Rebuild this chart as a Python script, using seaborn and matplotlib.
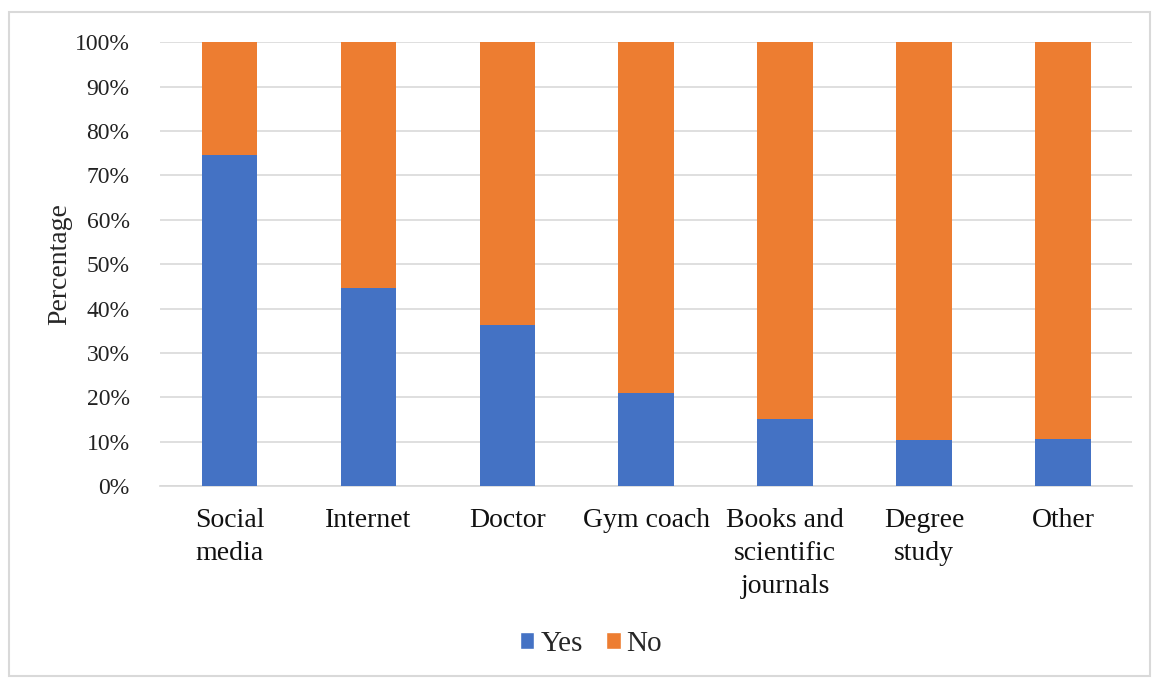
import matplotlib
matplotlib.use('Agg')
import matplotlib.pyplot as plt
import seaborn as sns
import pandas as pd
from matplotlib.patches import Patch, Rectangle
from matplotlib.ticker import FuncFormatter

sources = ['Social\nmedia', 'Internet', 'Doctor', 'Gym coach',
           'Books and\nscientific\njournals', 'Degree\nstudy', 'Other']
yes_pct = [74.6, 44.7, 36.3, 20.9, 15.2, 10.3, 10.6]
no_pct = [25.4, 55.3, 63.7, 79.1, 84.8, 89.7, 89.4]

blue = '#4472C4'
orange = '#ED7D31'

sns.set_theme(style='white')
plt.rcParams['font.family'] = ['Liberation Serif', 'DejaVu Serif']

df = pd.DataFrame({'Source': sources, 'Yes': yes_pct, 'No': no_pct})

fig = plt.figure(figsize=(11.52, 6.79), dpi=100)
ax = fig.add_axes([0.139, 0.284, 0.844, 0.654])

sns.barplot(data=df, x='Source', y='Yes', color=blue, width=0.4,
            saturation=1, linewidth=0, ax=ax, zorder=3)
sns.barplot(data=df, x='Source', y='No', bottom=df['Yes'], color=orange,
            width=0.4, saturation=1, linewidth=0, ax=ax, zorder=3)

ax.set_ylim(0, 100)
ax.set_xlim(-0.5, len(sources) - 0.5)
ax.set_yticks(range(0, 101, 10))
ax.yaxis.set_major_formatter(FuncFormatter(lambda v, p: f'{int(v)}%'))
ax.grid(axis='y', color='#d9d9d9', linewidth=1.2, zorder=0)
ax.set_axisbelow(True)
for s in ['top', 'right', 'left']:
    ax.spines[s].set_visible(False)
ax.spines['bottom'].set_color('#d9d9d9')
ax.tick_params(axis='y', labelsize=17, length=0, pad=22, colors='#222222')
ax.tick_params(axis='x', labelsize=20, length=0, pad=16, colors='#111111')
ax.set_xlabel('')
ax.set_ylabel('Percentage', fontsize=20, labelpad=2)
for lab in ax.get_xticklabels():
    lab.set_linespacing(1.4)
    lab.set_verticalalignment('top')

handles = [Patch(facecolor=blue, label='Yes'), Patch(facecolor=orange, label='No')]
fig.legend(handles=handles, loc='center', bbox_to_anchor=(0.513, 0.052), ncol=2,
           frameon=False, fontsize=21, handlelength=0.5, handleheight=0.5,
           handletextpad=0.2, columnspacing=0.8)

fig.patches.append(Rectangle((0.008, 0.005), 0.99, 0.977, transform=fig.transFigure,
                             fill=False, edgecolor='#d9d9d9', linewidth=1.5))

plt.savefig('out.png', dpi=100)
